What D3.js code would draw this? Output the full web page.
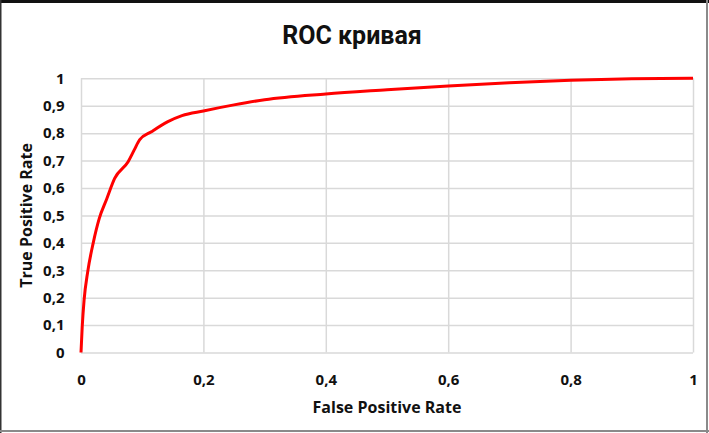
<!DOCTYPE html>
<html>
<head>
<meta charset="utf-8">
<script src="https://cdn.jsdelivr.net/npm/d3@7"></script>
<style>
  html, body { margin: 0; padding: 0; background: #fff; }
  svg { display: block; }
</style>
</head>
<body>
<div class="svg-container"></div>
<script>
const fpr = [0, 0.002, 0.005, 0.011, 0.02, 0.03, 0.042, 0.055, 0.077, 0.087, 0.096, 0.115, 0.142, 0.165, 0.2, 0.25, 0.3, 0.4, 0.5, 0.6, 0.7, 0.8, 0.9, 1]
const tpr = [0, 0.094, 0.19, 0.295, 0.4, 0.49, 0.56, 0.635, 0.696, 0.739, 0.776, 0.805, 0.842, 0.864, 0.881, 0.903, 0.922, 0.943, 0.958, 0.972, 0.984, 0.993, 0.998, 1]
const xTicks = [0, 0.2, 0.4, 0.6, 0.8, 1]
const yTicks = [0, 0.1, 0.2, 0.3, 0.4, 0.5, 0.6, 0.7, 0.8, 0.9, 1]

;(function init() {
  const width = 709
  const height = 433
  const left = 81
  const right = 693
  const top = 78.3
  const bottom = 352.5

  const fmt = (d) => String(d).replace('.', ',')
  const font = "'Open Sans', sans-serif"

  const dataset = fpr.map((x, i) => ({ x: x, y: tpr[i] }))

  const xScale = d3.scaleLinear().domain([0, 1]).range([left, right])
  const yScale = d3.scaleLinear().domain([0, 1]).range([bottom, top])

  const svg = d3
    .select('.svg-container')
    .append('svg')
    .attr('width', width)
    .attr('height', height)

  // frame like the cropped chart area
  svg.append('rect').attr('x', 0).attr('y', 0).attr('width', width).attr('height', 3).attr('fill', '#111')
  svg.append('rect').attr('x', 0).attr('y', 0).attr('width', 1.5).attr('height', height).attr('fill', '#333')
  svg.append('rect').attr('x', width - 3).attr('y', 0).attr('width', 2).attr('height', height).attr('fill', '#8a8a8a')
  svg.append('rect').attr('x', 0).attr('y', height - 3).attr('width', width).attr('height', 2).attr('fill', '#8a8a8a')

  // gridlines + tick labels
  const yAxis = d3.axisLeft(yScale).tickValues(yTicks).tickSize(-(right - left)).tickFormat(fmt).tickPadding(16.5)
  const gy = svg.append('g').attr('transform', 'translate(' + left + ',0)').call(yAxis)
  gy.select('.domain').remove()
  gy.selectAll('line').attr('stroke', '#d9d9d9').attr('stroke-width', 1.5)
  gy.selectAll('text')
    .attr('font-family', font)
    .attr('font-weight', 'bold')
    .attr('font-size', 15)
    .attr('fill', '#111')

  const xAxis = d3.axisBottom(xScale).tickValues(xTicks).tickSize(-(bottom - top)).tickFormat(fmt).tickPadding(22)
  const gx = svg.append('g').attr('transform', 'translate(0,' + bottom + ')').call(xAxis)
  gx.select('.domain').remove()
  gx.selectAll('line').attr('stroke', '#d9d9d9').attr('stroke-width', 1.5)
  gx.selectAll('text')
    .attr('font-family', font)
    .attr('font-weight', 'bold')
    .attr('font-size', 15)
    .attr('fill', '#111')

  // ROC line
  const line = d3
    .line()
    .x((d) => xScale(d.x))
    .y((d) => yScale(d.y))
    .curve(d3.curveMonotoneX)

  svg
    .append('path')
    .datum(dataset)
    .attr('d', line)
    .attr('fill', 'none')
    .attr('stroke', '#ff0000')
    .attr('stroke-width', 3)
    .attr('stroke-linejoin', 'round')

  // titles
  svg
    .append('text')
    .attr('x', 352)
    .attr('y', 43.5)
    .attr('text-anchor', 'middle')
    .attr('font-family', 'Roboto, sans-serif')
    .attr('font-weight', 'bold')
    .attr('font-size', 25)
    .attr('fill', '#111')
    .text('ROC кривая')

  svg
    .append('text')
    .attr('x', (left + right) / 2)
    .attr('y', 413)
    .attr('text-anchor', 'middle')
    .attr('font-family', font)
    .attr('font-weight', 'bold')
    .attr('font-size', 16)
    .attr('fill', '#111')
    .text('False Positive Rate')

  svg
    .append('text')
    .attr('transform', 'translate(32,' + (top + bottom) / 2 + ') rotate(-90)')
    .attr('text-anchor', 'middle')
    .attr('font-family', font)
    .attr('font-weight', 'bold')
    .attr('font-size', 16)
    .attr('fill', '#111')
    .text('True Positive Rate')
})()
</script>
</body>
</html>
